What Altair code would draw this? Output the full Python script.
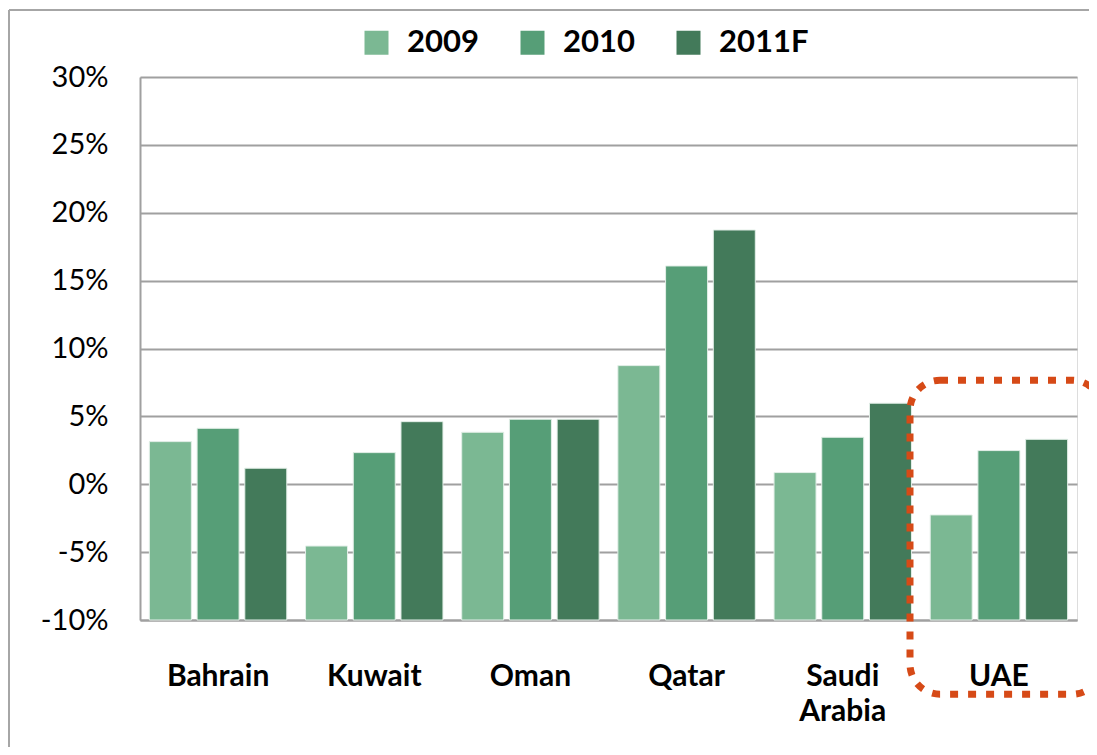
import altair as alt
import pandas as pd

countries = ["Bahrain", "Kuwait", "Oman", "Qatar", "Saudi Arabia", "UAE"]
years = ["2009", "2010", "2011F"]
v2009 = [0.0314, -0.0455, 0.0383, 0.0874, 0.0086, -0.0226]
v2010 = [0.0412, 0.0233, 0.0479, 0.1608, 0.0346, 0.0248]
v2011 = [0.0118, 0.0461, 0.0479, 0.1873, 0.0597, 0.0331]
colors = ["#7bb893", "#569e77", "#437a5a"]
y_ticks = [-0.10, -0.05, 0.0, 0.05, 0.10, 0.15, 0.20, 0.25, 0.30]
box_top, box_bottom = 0.0766, -0.1547

rows = []
for i, c in enumerate(countries):
    for y, vals in zip(years, [v2009, v2010, v2011]):
        rows.append({"country": c, "year": y, "value": vals[i], "base": -0.10})
df = pd.DataFrame(rows)

W, H = 937, 543
FONT = "Lato"

x_enc = alt.X(
    "country:N",
    sort=countries,
    scale=alt.Scale(paddingInner=0.12, paddingOuter=0.06),
    axis=alt.Axis(
        title=None,
        labelAngle=0,
        labelFont=FONT,
        labelFontSize=30,
        labelFontWeight="bold",
        labelColor="#000000",
        labelPadding=41,
        labelLineHeight=35,
        labelExpr="datum.label == 'Saudi Arabia' ? ['Saudi', 'Arabia'] : datum.label",
        ticks=False,
        domainColor="#a0a0a0",
        domainWidth=2,
        labelBaseline="top",
    ),
)

y_scale = alt.Scale(domain=[-0.10, 0.30], nice=False, zero=False)

bars = alt.Chart(df).mark_bar(stroke="#e3efe8", strokeWidth=1).encode(
    x=x_enc,
    xOffset=alt.XOffset("year:N", sort=years, scale=alt.Scale(paddingInner=0.12, paddingOuter=0)),
    y=alt.Y(
        "value:Q",
        scale=y_scale,
        axis=alt.Axis(
            title=None,
            values=y_ticks,
            format=".0%",
            labelExpr="replace(datum.label, '\u2212', '-')",
            labelFont=FONT,
            labelFontSize=29,
            labelColor="#000000",
            labelPadding=32,
            ticks=False,
            domainColor="#a0a0a0",
            domainWidth=2,
            gridColor="#a0a0a0",
            gridWidth=2,
        ),
    ),
    y2="base:Q",
    color=alt.Color(
        "year:N",
        sort=years,
        scale=alt.Scale(domain=years, range=colors),
        legend=alt.Legend(
            title=None,
            orient="none",
            direction="horizontal",
            legendX=221,
            legendY=-50,
            symbolType="square",
            symbolSize=576,
            symbolStrokeWidth=0,
            labelFont=FONT,
            labelFontSize=31,
            labelFontWeight="bold",
            labelColor="#000000",
            labelOffset=15,
            columnPadding=38,
            padding=0,
        ),
    ),
)

box_df = pd.DataFrame({"top": [box_top], "bottom": [box_bottom]})
box = alt.Chart(box_df).mark_rect(
    fill=None,
    fillOpacity=0,
    stroke="#d64a17",
    strokeWidth=7,
    strokeDash=[8, 10],
    cornerRadius=30,
).encode(
    x=alt.value(770),
    x2=alt.value(962),
    y=alt.Y("top:Q", scale=y_scale),
    y2="bottom:Q",
)

frame_df = pd.DataFrame({"k": [0]})
frame_top = alt.Chart(frame_df).mark_rule(color="#a6a6a6", strokeWidth=2).encode(
    x=alt.value(-131), x2=alt.value(1000), y=alt.value(-67)
)
frame_left = alt.Chart(frame_df).mark_rule(color="#a6a6a6", strokeWidth=2).encode(
    x=alt.value(-131), y=alt.value(-67), y2=alt.value(700)
)

chart = (
    alt.layer(frame_top, frame_left, bars, box)
    .properties(
        width=W,
        height=H,
        autosize=alt.AutoSizeParams(type="none"),
        padding={"left": 132, "top": 69, "right": 12, "bottom": 127},
    )
    .configure_view(stroke=None)
    .configure(background="white")
)

chart.save("out.html", embed_options={"renderer": "svg", "actions": False})
